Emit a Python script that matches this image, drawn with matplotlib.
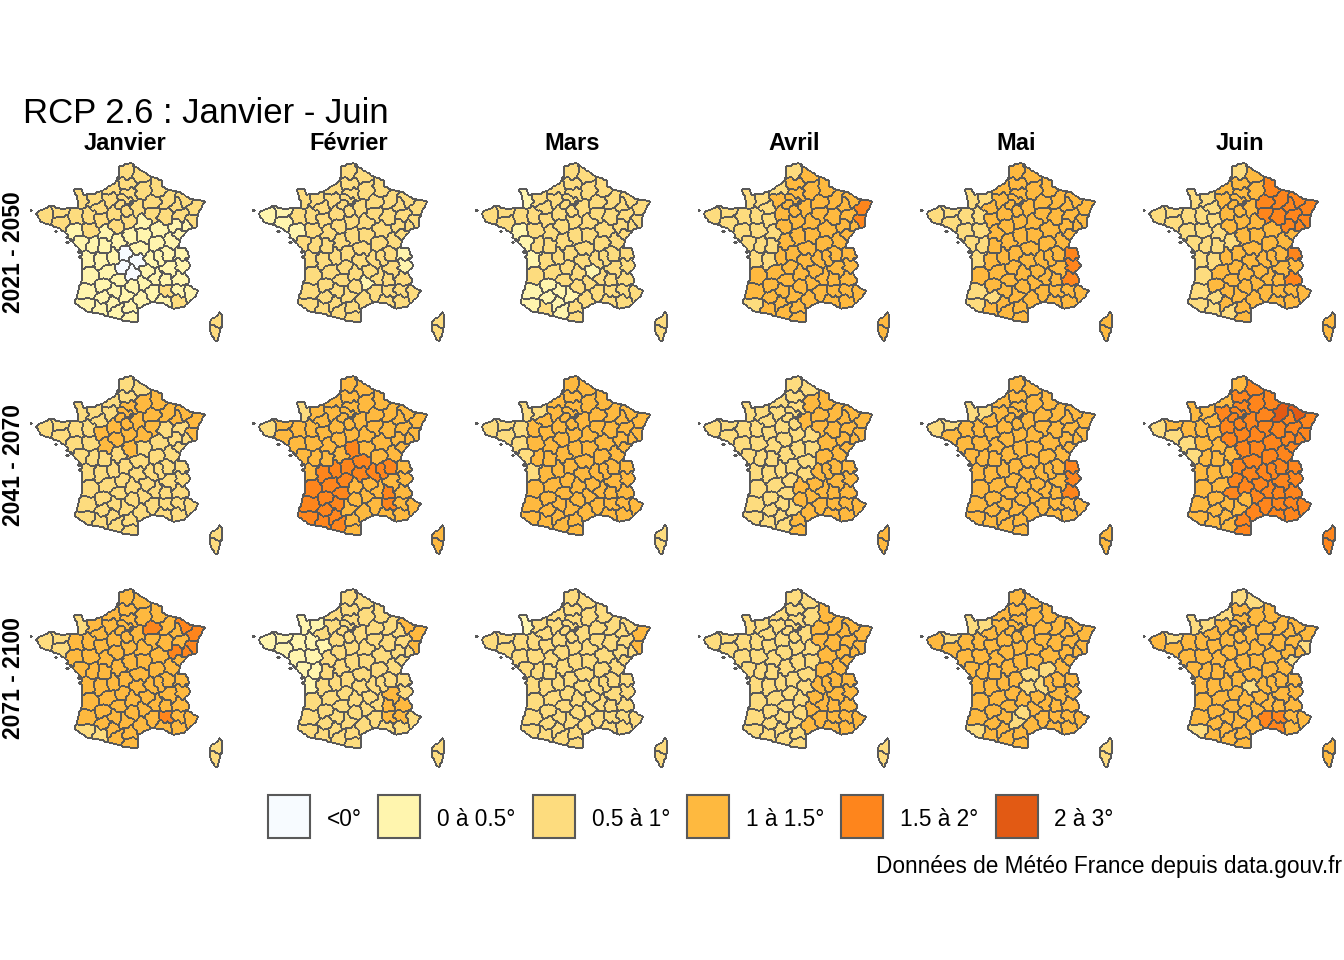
import numpy as np
import matplotlib
matplotlib.use("Agg")
import matplotlib.pyplot as plt
from matplotlib.collections import LineCollection
from matplotlib.colors import ListedColormap
from matplotlib.path import Path
from matplotlib.patches import Rectangle

plt.rcParams['font.family'] = ['Liberation Sans', 'DejaVu Sans']

# departments: code, approximate centre
DEPT_CODES = ["01", "02", "03", "04", "05", "06", "07", "08", "09", "10", "11", "12", "13", "14", "15", "16",
              "17", "18", "19", "21", "22", "23", "24", "25", "26", "27", "28", "29", "2A", "2B", "30", "31",
              "32", "33", "34", "35", "36", "37", "38", "39", "40", "41", "42", "43", "44", "45", "46", "47",
              "48", "49", "50", "51", "52", "53", "54", "55", "56", "57", "58", "59", "60", "61", "62", "63",
              "64", "65", "66", "67", "68", "69", "70", "71", "72", "73", "74", "75", "76", "77", "78", "79",
              "80", "81", "82", "83", "84", "85", "86", "87", "88", "89", "90", "91", "92", "93", "94", "95"]
DEPT_LON = [5.35, 3.55, 3.2, 6.25, 6.25, 7.1, 4.45, 4.65, 1.5, 4.15, 2.4, 2.7, 5.1, -0.35, 2.65, 0.2,
            -0.75, 2.5, 1.9, 4.75, -2.85, 2.0, 0.75, 6.35, 5.15, 1.0, 1.35, -4.05, 8.95, 9.2, 4.2, 1.15,
            0.45, -0.55, 3.35, -1.65, 1.6, 0.7, 5.55, 5.7, -0.75, 1.4, 4.15, 3.8, -1.7, 2.35, 1.6, 0.45,
            3.5, -0.55, -1.3, 4.2, 5.2, -0.65, 6.15, 5.35, -2.8, 6.65, 3.5, 3.2, 2.4, 0.1, 2.3, 3.1,
            -0.75, 0.15, 2.5, 7.5, 7.25, 4.65, 6.1, 4.55, 0.2, 6.45, 6.4, 2.35, 1.0, 2.95, 1.85, -0.3,
            2.3, 2.15, 1.3, 6.2, 5.2, -1.3, 0.45, 1.25, 6.35, 3.55, 6.9, 2.25, 2.24, 2.47, 2.47, 2.15]
DEPT_LAT = [46.1, 49.55, 46.4, 44.1, 44.65, 43.95, 44.75, 49.6, 42.95, 48.3, 43.1, 44.3, 43.55, 49.1, 45.05, 45.7,
            45.8, 47.05, 45.35, 47.45, 48.45, 46.1, 45.1, 47.15, 44.7, 49.1, 48.3, 48.25, 41.75, 42.4, 43.95, 43.35,
            43.7, 44.85, 43.6, 48.15, 46.8, 47.25, 45.25, 46.75, 44.0, 47.6, 45.75, 45.1, 47.35, 47.9, 44.6, 44.35,
            44.5, 47.4, 49.1, 48.95, 48.1, 48.15, 48.75, 49.0, 47.85, 49.05, 47.1, 50.45, 49.4, 48.6, 50.5, 45.7,
            43.25, 43.05, 42.6, 48.65, 47.85, 45.9, 47.65, 46.65, 48.0, 45.5, 46.05, 48.86, 49.65, 48.6, 48.8, 46.55,
            49.95, 43.8, 44.05, 43.45, 44.0, 46.7, 46.55, 45.9, 48.2, 47.85, 47.6, 48.5, 48.84, 48.92, 48.77, 49.07]
# the small departments around Paris get a tight cell
SMALL_DEPTS = ["75", "92", "93", "94"]

FRANCE_LON = [2.55, 3.2, 4.2, 4.85, 4.85, 5.8, 6.35, 7.0, 8.2, 7.6, 7.55, 6.9, 6.4, 6.1, 6.8, 7.0, 6.8, 7.15, 6.65,
              7.05, 6.9, 7.7, 7.45, 6.65, 5.8, 5.05, 4.2, 3.1, 3.05, 1.75, 0.65, -0.75, -1.75, -1.25, -1.15, -1.2,
              -2.1, -2.5, -3.1, -4.35, -4.75, -3.6, -2.7, -2.0, -1.45, -1.6, -1.85, -1.25, -1.1, 0.1, 1.4, 1.6, 1.6]
FRANCE_LAT = [51.08, 50.75, 50.3, 50.15, 49.8, 49.55, 49.47, 49.15, 48.97, 48.1, 47.55, 47.4, 46.95, 46.4, 46.4, 45.9,
              45.7, 45.45, 45.05, 44.7, 44.35, 44.05, 43.75, 43.2, 43.05, 43.35, 43.45, 43.05, 42.3, 42.45, 42.7,
              42.9, 43.35, 44.6, 45.6, 46.2, 46.85, 47.3, 47.55, 47.85, 48.35, 48.72, 48.55, 48.65, 48.65, 49.2,
              49.7, 49.7, 49.35, 49.45, 50.05, 50.4, 50.9]
CORSICA_LON = [9.4, 9.55, 9.3, 9.1, 8.6, 8.6, 9.2]
CORSICA_LAT = [43.0, 42.2, 41.6, 41.2, 41.8, 42.4, 42.7]
# Ouessant, Belle-Ile, Noirmoutier, Yeu, Re, Oleron
ISLAND_LON = [-5.1, -3.2, -2.3, -2.35, -1.45, -1.3]
ISLAND_LAT = [48.45, 47.33, 46.98, 46.7, 46.2, 45.9]

MONTHS = ["Janvier", "Février", "Mars", "Avril", "Mai", "Juin"]
PERIODS = ["2021 - 2050", "2041 - 2070", "2071 - 2100"]
CLASS_LABELS = ["<0°", "0 à 0.5°", "0.5 à 1°", "1 à 1.5°", "1.5 à 2°", "2 à 3°"]
CLASS_COLORS = ["#F7FBFF", "#FFF5AE", "#FDDC7E", "#FEB93F", "#FE851C", "#E25A14"]
EDGE = "#595959"

# each panel: most frequent class, then the departments that differ from it
jan_2021 = (1, {0: ["23", "63", "19", "15"],
                2: ["62", "59", "80", "02", "08", "60", "76", "27", "95", "78", "91", "92", "93", "94", "75", "77",
                    "51", "10", "55", "54", "57", "67", "68", "88", "52", "28", "45", "41", "72", "53", "61", "14",
                    "50", "35", "22", "29", "56", "49", "84", "83", "2A", "2B"]})
fev_2021 = (2, {1: ["29", "22", "56", "44", "74", "73", "48"]})
mar_2021 = (2, {1: ["50", "44", "85", "17", "40", "64", "47", "32", "82", "31", "81", "09", "43"]})
avr_2021 = (3, {2: ["62", "76", "50", "14", "29", "22", "56", "35", "44", "85", "49", "53", "72", "37", "79", "17",
                    "16", "86", "61", "64"],
                4: ["67", "68"]})
mai_2021 = (3, {2: ["50", "14", "29", "22", "56", "35", "44", "85", "49", "53", "79", "17", "40", "64", "32"],
                4: ["74", "73", "05"]})
jun_2021 = (3, {2: ["29", "22", "56", "35", "44", "85", "49", "53", "72", "14", "50", "61", "37", "79", "17", "86",
                    "16", "33", "40", "64", "32", "62", "36", "65", "09"],
                4: ["51", "08", "10", "55", "52", "57", "54", "88", "67", "68", "70", "90", "74", "05"]})

jan_2041 = (2, {3: ["02", "08", "60", "51", "55", "57", "54", "67", "68", "75", "77", "91", "94", "93", "92", "95",
                    "78", "10", "89", "45", "28", "72", "37", "41", "18"]})
fev_2041 = (3, {2: ["50", "29"],
                4: ["18", "03", "63", "23", "87", "16", "24", "33", "40", "64", "47", "32", "82", "65", "09", "31",
                    "19", "46", "69", "42", "01", "26", "84"]})
mar_2041 = (3, {2: ["50", "14", "29", "22", "35", "56", "44", "85", "17", "2A", "2B"]})
avr_2041 = (2, {3: ["02", "08", "77", "51", "10", "55", "52", "57", "54", "88", "67", "68", "21", "71", "70", "39",
                    "25", "90", "01", "74", "73", "38", "69", "42", "26", "07", "43", "15", "12", "48", "05", "04",
                    "84", "30", "34", "11", "83", "06", "13", "2A", "2B", "66"]})
mai_2041 = (3, {2: ["50", "14", "22", "29"], 4: ["74", "73", "05"]})
jun_2041 = (4, {2: ["29", "56", "44", "85"],
                3: ["62", "76", "50", "14", "22", "35", "53", "72", "61", "49", "37", "79", "86", "36", "17", "33",
                    "40", "64", "65", "32", "47", "24", "16", "87", "12", "81", "82", "09", "31"],
                5: ["55", "57"]})

jan_2071 = (3, {2: ["50", "22", "29", "56", "64", "65", "2A", "2B"],
                4: ["51", "57", "67", "68", "70", "84", "90"]})
fev_2071 = (2, {1: ["29", "22", "56", "35", "50", "44", "53", "49", "85", "79", "17", "72", "14"],
                3: ["57", "67", "68", "38", "26", "05", "04", "84"]})
mar_2071 = (2, {1: ["50"], 3: ["67", "68"]})
avr_2071 = (2, {3: ["08", "51", "10", "55", "57", "54", "67", "68", "52", "21", "70", "88", "71", "38", "74", "73",
                    "26", "48", "07", "05", "04", "84", "30", "34", "13", "83", "06", "69", "42", "01", "39", "25",
                    "90", "43"]})
mai_2071 = (3, {2: ["50", "14", "22", "03", "63", "71", "42", "12", "81", "64", "2A", "2B"]})
jun_2071 = (3, {2: ["62", "59", "76", "50", "14", "22", "68", "25", "63", "64"],
                4: ["30", "84", "13"]})

PANELS = [[jan_2021, fev_2021, mar_2021, avr_2021, mai_2021, jun_2021],
          [jan_2041, fev_2041, mar_2041, avr_2041, mai_2041, jun_2041],
          [jan_2071, fev_2071, mar_2071, avr_2071, mai_2071, jun_2071]]

W, H = 1344, 960
LON_MIN, LON_MAX, LAT_MIN, LAT_MAX = -5.2, 9.8, 41.0, 51.3
PX_LON, PX_LAT = 13.05, 18.15


def build_grid():
    lon_edges = np.arange(LON_MIN, LON_MAX + 0.05, 0.1)
    lat_edges = np.arange(LAT_MIN, LAT_MAX + 0.03, 0.07)
    lon = (lon_edges[:-1] + lon_edges[1:]) / 2
    lat = (lat_edges[:-1] + lat_edges[1:]) / 2
    xx, yy = np.meshgrid(lon, lat)
    pts = np.column_stack([xx.ravel(), yy.ravel()])

    inside = Path(np.column_stack([FRANCE_LON, FRANCE_LAT])).contains_points(pts)
    inside |= Path(np.column_stack([CORSICA_LON, CORSICA_LAT])).contains_points(pts)
    inside = inside.reshape(xx.shape)
    for lo, la in zip(ISLAND_LON, ISLAND_LAT):
        inside |= (np.abs(xx - lo) < 0.1) & (np.abs(yy - la) < 0.06)

    # bend the straight borders a little, departments are not polygons
    wx = xx * 0.72 + 0.05 * np.sin(yy * 11) + 0.03 * np.sin(xx * 17 + yy * 6)
    wy = yy + 0.05 * np.sin(xx * 9) + 0.03 * np.cos(yy * 19 - xx * 5)
    dist = []
    for code, lo, la in zip(DEPT_CODES, DEPT_LON, DEPT_LAT):
        d = (wx - lo * 0.72) ** 2 + (wy - la) ** 2
        dist.append(d * 12 if code in SMALL_DEPTS else d)
    labels = np.argmin(dist, axis=0)
    labels[~inside] = -1
    return lon_edges, lat_edges, labels


def border_segments(lon_edges, lat_edges, labels):
    segs = []
    padded = np.pad(labels, 1, constant_values=-1)
    rows, cols = labels.shape
    for r in range(rows + 1):
        for c in range(cols):
            if padded[r, c + 1] != padded[r + 1, c + 1]:
                segs.append([(lon_edges[c], lat_edges[r]), (lon_edges[c + 1], lat_edges[r])])
    for r in range(rows):
        for c in range(cols + 1):
            if padded[r + 1, c] != padded[r + 1, c + 1]:
                segs.append([(lon_edges[c], lat_edges[r]), (lon_edges[c], lat_edges[r + 1])])
    return segs


lon_edges, lat_edges, labels = build_grid()
segments = border_segments(lon_edges, lat_edges, labels)
cmap = ListedColormap(CLASS_COLORS)

fig = plt.figure(figsize=(W / 100, H / 100), dpi=100)

for row, period in enumerate(PANELS):
    for col, (base, others) in enumerate(period):
        classes = {code: base for code in DEPT_CODES}
        for cls, codes in others.items():
            for code in codes:
                classes[code] = cls
        values = np.array([classes[code] for code in DEPT_CODES])
        grid = np.ma.masked_where(labels < 0, values[labels])

        left = 35 + col * 222.6 + (LON_MIN + 4.8) * PX_LON
        top = 163 + row * 213 - (LAT_MAX - 51.09) * PX_LAT
        width = (LON_MAX - LON_MIN) * PX_LON
        height = (LAT_MAX - LAT_MIN) * PX_LAT
        ax = fig.add_axes([left / W, 1 - (top + height) / H, width / W, height / H])
        ax.pcolormesh(lon_edges, lat_edges, grid, cmap=cmap, vmin=-0.5, vmax=5.5, antialiased=False)
        ax.add_collection(LineCollection(segments, colors=EDGE, linewidths=1.4, antialiased=False,
                                         capstyle="butt"))
        ax.set_xlim(LON_MIN, LON_MAX)
        ax.set_ylim(LAT_MIN, LAT_MAX)
        ax.axis("off")

# text and legend placed in pixels
over = fig.add_axes([0, 0, 1, 1], zorder=5)
over.set_xlim(0, W)
over.set_ylim(H, 0)
over.axis("off")
over.patch.set_alpha(0)

over.text(23, 123, "RCP 2.6 : Janvier - Juin", fontsize=25, ha="left", va="baseline")
for x, month in zip([125.5, 349, 572, 794, 1016, 1240], MONTHS):
    over.text(x, 150, month, fontsize=17, fontweight="bold", ha="center", va="baseline")
for y, label in zip([252, 465, 678], PERIODS):
    over.text(14, y, label, fontsize=16.5, fontweight="bold", rotation=90, ha="center", va="center")

key_x = [268, 378, 533, 687, 841, 996]
text_x = [327, 437, 592, 746, 900, 1054]
for kx, tx, color, label in zip(key_x, text_x, CLASS_COLORS, CLASS_LABELS):
    over.add_patch(Rectangle((kx, 795), 42, 43, facecolor=color, edgecolor=EDGE, linewidth=1.5))
    over.text(tx, 826, label, fontsize=16.3, ha="left", va="baseline")

over.text(1342, 873, "Données de Météo France depuis data.gouv.fr", fontsize=16.3, ha="right", va="baseline")

fig.savefig("out.png", dpi=100)
